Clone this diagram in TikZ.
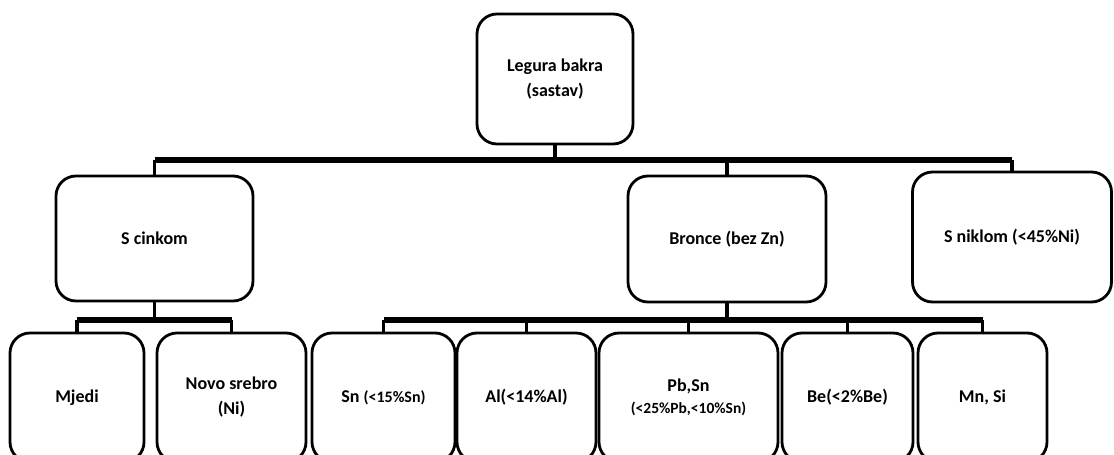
\documentclass[tikz,border=0pt]{standalone}
\usepackage{fontspec}
\setmainfont{Carlito}
\usepackage{tikz}
\usetikzlibrary{positioning}
\newcommand{\busw}{6pt}
\newcommand{\stemw}{3.2pt}
\newcommand{\boxr}{20pt}

\begin{document}
\begin{tikzpicture}[x=1pt,y=-1pt,
		kutija/.style={draw, line width=2.8pt, rounded corners=\boxr, align=center, inner sep=2pt,
			font=\fontsize{18}{25}\selectfont\bfseries},
		sabirnica/.style={line width=\busw},
		grana/.style={line width=\stemw}]
		%\draw[help lines] (0,0) grid[step=50] (1114,455);
		\clip (0,0) rectangle (1114,455);
		% vrh
		\node[kutija, minimum width=156pt, minimum height=130pt] (legura) at (555,79) {Legura bakra\\(sastav)};
		% prva razina
		\node[kutija, minimum width=197pt, minimum height=125pt] (cink) at (154.5,238.5) {S cinkom};
		\node[kutija, minimum width=198pt, minimum height=126pt] (bronca) at (727,239) {Bronce (bez Zn)};
		\node[kutija, minimum width=199pt, minimum height=130pt] (nikal) at (1012,237) {S niklom (<45\%Ni)};
		% druga razina
		\node[kutija, minimum width=134pt, minimum height=129pt] (mjedi) at (77,397.5) {Mjedi};
		\node[kutija, minimum width=149pt, minimum height=129pt] (novo) at (231.5,397.5) {Novo srebro\\(Ni)};
		\node[kutija, minimum width=143pt, minimum height=129pt] (sn) at (383.5,397.5) {Sn {\fontsize{16}{20}\selectfont(<15\%Sn)}};
		\node[kutija, minimum width=139pt, minimum height=129pt] (al) at (526.5,397.5) {Al(<14\%Al)};
		\node[kutija, minimum width=179pt, minimum height=129pt] (pbsn) at (688.5,397.5) {Pb,Sn\\[-3pt]{\fontsize{15.5}{20}\selectfont(<25\%Pb,<10\%Sn)}};
		\node[kutija, minimum width=131pt, minimum height=129pt] (be) at (847.5,397.5) {Be(<2\%Be)};
		\node[kutija, minimum width=129pt, minimum height=129pt] (mnsi) at (982.5,397.5) {Mn, Si};
		% sabirnice
		\coordinate (b1) at (0,160);
		\coordinate (b2) at (0,320);
		\draw[grana] (legura.south) -- (legura.south |- b1);
		\draw[sabirnica] (cink.north |- b1) -- (nikal.north |- b1);
		\foreach \k in {cink,bronca,nikal}
			\draw[grana] (\k.north |- b1) -- (\k.north);
		\draw[grana] (cink.south) -- (cink.south |- b2);
		\draw[sabirnica] (mjedi.north |- b2) -- (novo.north |- b2);
		\foreach \k in {mjedi,novo}
			\draw[grana] (\k.north |- b2) -- (\k.north);
		\draw[grana] (bronca.south) -- (bronca.south |- b2);
		\draw[sabirnica] (sn.north |- b2) -- (mnsi.north |- b2);
		\foreach \k in {sn,al,pbsn,be,mnsi}
			\draw[grana] (\k.north |- b2) -- (\k.north);
	\end{tikzpicture}
\end{document}
